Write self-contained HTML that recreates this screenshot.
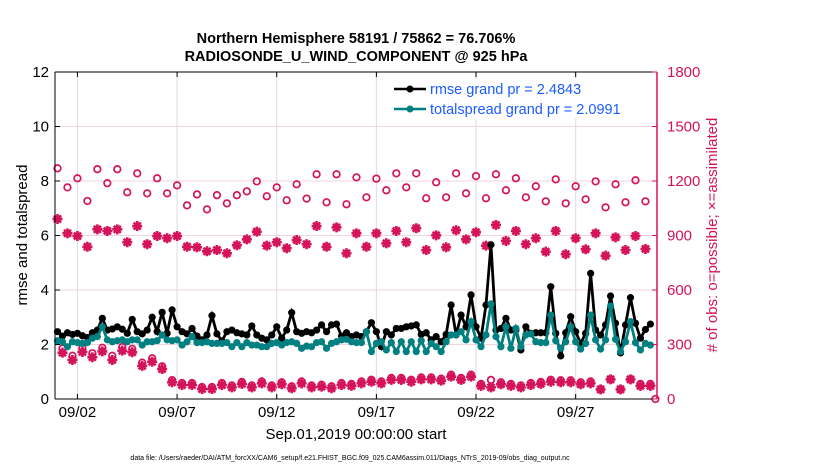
<!DOCTYPE html>
<html><head><meta charset="utf-8"><style>
body{margin:0;background:#fff;width:830px;height:470px;overflow:hidden;font-family:"Liberation Sans",sans-serif}
svg text{font-family:"Liberation Sans",sans-serif}
</style></head><body>
<svg id="chart" width="830" height="470" xmlns="http://www.w3.org/2000/svg">
<text x="356" y="43" text-anchor="middle" font-size="14.5" font-weight="bold">Northern Hemisphere 58191 / 75862 = 76.706%</text>
<text x="356" y="61" text-anchor="middle" font-size="14.5" font-weight="bold">RADIOSONDE_U_WIND_COMPONENT @ 925 hPa</text>
<g id="grid"></g><g id="marks"></g><g id="axes"></g>
<text transform="translate(27,235) rotate(-90)" text-anchor="middle" font-size="15">rmse and totalspread</text>
<text transform="translate(717,235) rotate(-90)" text-anchor="middle" font-size="15" fill="#d5135a"># of obs: o=possible; ×=assimilated</text>
<text x="356" y="439" text-anchor="middle" font-size="15">Sep.01,2019 00:00:00 start</text>
<text x="350" y="460" text-anchor="middle" font-size="7">data file: /Users/raeder/DAI/ATM_forcXX/CAM6_setup/f.e21.FHIST_BGC.f09_025.CAM6assim.011/Diags_NTrS_2019-09/obs_diag_output.nc</text>
<g>
<rect x="388" y="79" width="257" height="40" fill="#fff"/>
<line x1="394" y1="89" x2="426" y2="89" stroke="#000" stroke-width="2.5"/><circle cx="410" cy="89" r="3.5" fill="#000"/>
<text x="430" y="94" font-size="14.5" fill="#1a5cff">rmse grand pr = 2.4843</text>
<line x1="394" y1="109" x2="426" y2="109" stroke="#008080" stroke-width="2.5"/><circle cx="410" cy="109" r="3.5" fill="#008080"/>
<text x="430" y="114" font-size="14.5" fill="#1a5cff">totalspread grand pr = 2.0991</text>
</g>
</svg>
<script>
// 6-hourly from 09/01 00Z
const rmse=[2.47,2.31,2.43,2.37,2.41,2.32,2.26,2.43,2.53,2.96,2.53,2.57,2.65,2.56,2.41,2.92,2.47,2.39,2.53,3.00,2.47,3.18,2.41,3.27,2.65,2.47,2.39,2.59,2.31,2.17,2.35,3.06,2.39,2.13,2.47,2.53,2.43,2.39,2.35,2.68,
2.35,2.23,2.17,2.35,2.65,2.23,2.53,3.17,2.47,2.41,2.47,2.43,2.53,2.72,2.47,2.72,2.75,2.31,2.43,2.29,2.35,2.29,2.47,2.80,2.47,1.92,2.47,2.35,2.59,2.59,2.65,2.68,2.72,2.37,2.43,2.17,2.29,2.10,2.37,3.45,
2.35,3.08,2.65,3.82,2.65,2.23,3.45,5.66,2.53,2.59,2.96,2.53,2.53,1.80,2.65,2.41,2.43,2.43,2.43,4.12,2.41,1.58,2.43,3.02,2.47,2.04,2.41,4.61,2.53,2.35,2.72,3.78,2.78,1.69,2.72,3.72,2.78,2.23,2.55,2.75];
const spread=[2.14,2.10,1.92,2.10,2.07,2.04,2.07,2.23,2.29,2.65,2.17,2.10,2.14,2.17,2.10,2.17,2.17,1.98,2.10,2.10,2.14,2.35,2.17,2.14,2.17,1.98,2.10,2.29,2.07,2.07,2.10,2.04,2.04,2.04,2.07,1.92,2.07,1.92,2.07,1.98,
1.98,1.92,1.92,2.04,2.07,1.98,2.07,2.10,2.04,1.86,1.94,1.92,2.07,2.10,1.86,2.04,2.10,2.17,2.19,2.10,2.07,2.07,2.47,1.74,2.04,2.10,1.80,2.07,1.74,2.10,1.74,2.10,1.74,2.14,1.74,2.04,1.92,1.74,2.10,2.35,
2.35,2.47,2.17,2.84,2.17,1.92,2.35,3.49,2.29,1.92,2.65,1.86,2.59,1.92,2.35,2.39,2.10,2.07,2.07,3.08,2.14,1.86,2.10,2.65,2.10,1.83,2.04,3.08,2.17,1.83,2.17,3.41,2.19,1.74,2.10,2.84,2.07,1.80,2.04,1.98];
// 12-hourly (00Z,12Z) counts
const possMain=[1270,1165,1215,1090,1265,1188,1265,1138,1242,1132,1215,1132,1176,1066,1126,1044,1122,1077,1122,1143,1198,1116,1165,1094,1182,1103,1237,1083,1237,1072,1220,1110,1213,1149,1242,1165,1242,1105,1193,1110,1242,1132,1227,1105,1237,1149,1215,1110,1171,1088,1209,1077,1171,1099,1198,1055,1182,1083,1204,1088,0];
const assimMain=[991,912,897,838,934,925,934,863,952,852,897,885,897,838,835,813,820,802,846,879,921,844,863,830,875,852,952,838,945,802,912,838,912,857,925,863,940,820,901,835,929,879,918,844,958,870,925,852,885,811,925,797,885,824,912,789,890,820,897,826,0];
// 12-hourly (06Z,18Z) counts
const assimOff=[255,215,259,230,262,215,266,257,182,205,165,92,77,77,55,55,77,64,83,64,86,64,81,59,86,64,68,59,77,72,86,95,86,105,105,95,108,108,101,123,105,123,72,64,81,72,64,77,83,95,92,92,81,86,53,108,53,108,72,72];
const possOff=[278,238,280,252,282,238,286,276,200,224,180,104,88,88,66,66,88,75,94,75,97,75,92,70,97,75,79,70,88,83,97,106,97,116,116,106,119,119,112,134,116,134,83,105,92,83,75,88,94,106,103,103,92,97,53,108,53,108,83,83];
const xTickDays=[1,6,11,16,21,26];
const xTickLabels=["09/02","09/07","09/12","09/17","09/22","09/27"];
const yTicks=[0,2,4,6,8,10,12];
const y2Ticks=[0,300,600,900,1200,1500,1800];

const L=55,R=657,T=72,B=399;
const X=d=>57.5+d*19.93;
const Y=v=>B-v*(B-T)/12;
const Y2=c=>B-c*(B-T)/1800;
const NS='http://www.w3.org/2000/svg';
function mk(tag,attrs,parent){const e=document.createElementNS(NS,tag);for(const k in attrs)e.setAttribute(k,attrs[k]);parent.appendChild(e);return e;}
const grid=document.getElementById('grid'),marks=document.getElementById('marks'),axes=document.getElementById('axes');
const MAG='#d5135a';
y2Ticks.forEach(c=>{if(c>0&&c<1800){const g=mk('line',{x1:L,x2:R,y1:Y2(c),y2:Y2(c),stroke:'#f3d3de','stroke-width':1},grid);

}});
xTickDays.forEach((d,i)=>{const g=mk('line',{x1:X(d),x2:X(d),y1:T,y2:B,stroke:'#dcdcdc','stroke-width':1},grid);


const t=mk('line',{x1:X(d),x2:X(d),y1:B,y2:B-5,stroke:'#000'},axes);


const t2=mk('line',{x1:X(d),x2:X(d),y1:T,y2:T+5,stroke:'#000'},axes);


const l=mk('text',{x:X(d),y:B+18,'text-anchor':'middle','font-size':15},axes);l.textContent=xTickLabels[i];

});
function star(cx,cy,g){const r=5;let d='';for(let a=0;a<4;a++){const an=a*Math.PI/4;d+=`M${cx-r*Math.cos(an)} ${cy-r*Math.sin(an)}L${cx+r*Math.cos(an)} ${cy+r*Math.sin(an)}`;}
const p=mk('path',{d:d,stroke:MAG,'stroke-width':2.6,fill:'none'},g);

}
function circ(cx,cy,g){const c=mk('circle',{cx:cx,cy:cy,r:3.3,fill:'none',stroke:MAG,'stroke-width':1.7},g);

}
possMain.forEach((c,i)=>circ(X(i*0.5),Y2(c),marks));
assimMain.forEach((c,i)=>{if(i<60)star(X(i*0.5),Y2(c),marks);});
possOff.forEach((c,i)=>circ(X(i*0.5+0.25),Y2(c),marks));
assimOff.forEach((c,i)=>star(X(i*0.5+0.25),Y2(c),marks));
function series(arr,color,name){
const pts=arr.map((v,i)=>X(i*0.25)+','+Y(v)).join(' ');
const pl=mk('polyline',{points:pts,fill:'none',stroke:color,'stroke-width':2.8},marks);


arr.forEach((v,i)=>{const c=mk('circle',{cx:X(i*0.25),cy:Y(v),r:3.6,fill:color},marks);

});}
series(rmse,'#000','rmse');
series(spread,'#008080','spread');
let a=mk('line',{x1:L,x2:L,y1:T,y2:B,stroke:'#000','stroke-width':1},axes);


a=mk('line',{x1:L,x2:R,y1:B,y2:B,stroke:'#000','stroke-width':1},axes);


a=mk('line',{x1:L,x2:R,y1:T,y2:T,stroke:'#000','stroke-width':1},axes);


a=mk('line',{x1:R,x2:R,y1:T,y2:B,stroke:MAG,'stroke-width':1.5},axes);


yTicks.forEach(v=>{const t=mk('line',{x1:L,x2:L+5,y1:Y(v),y2:Y(v),stroke:'#000'},axes);


const l=mk('text',{x:L-6,y:Y(v)+5,'text-anchor':'end','font-size':15},axes);l.textContent=v;

});
y2Ticks.forEach(c=>{const t=mk('line',{x1:R-5,x2:R,y1:Y2(c),y2:Y2(c),stroke:MAG},axes);


const l=mk('text',{x:R+10,y:Y2(c)+5,'font-size':15,fill:MAG},axes);l.textContent=c;

});
</script>
</body></html>
